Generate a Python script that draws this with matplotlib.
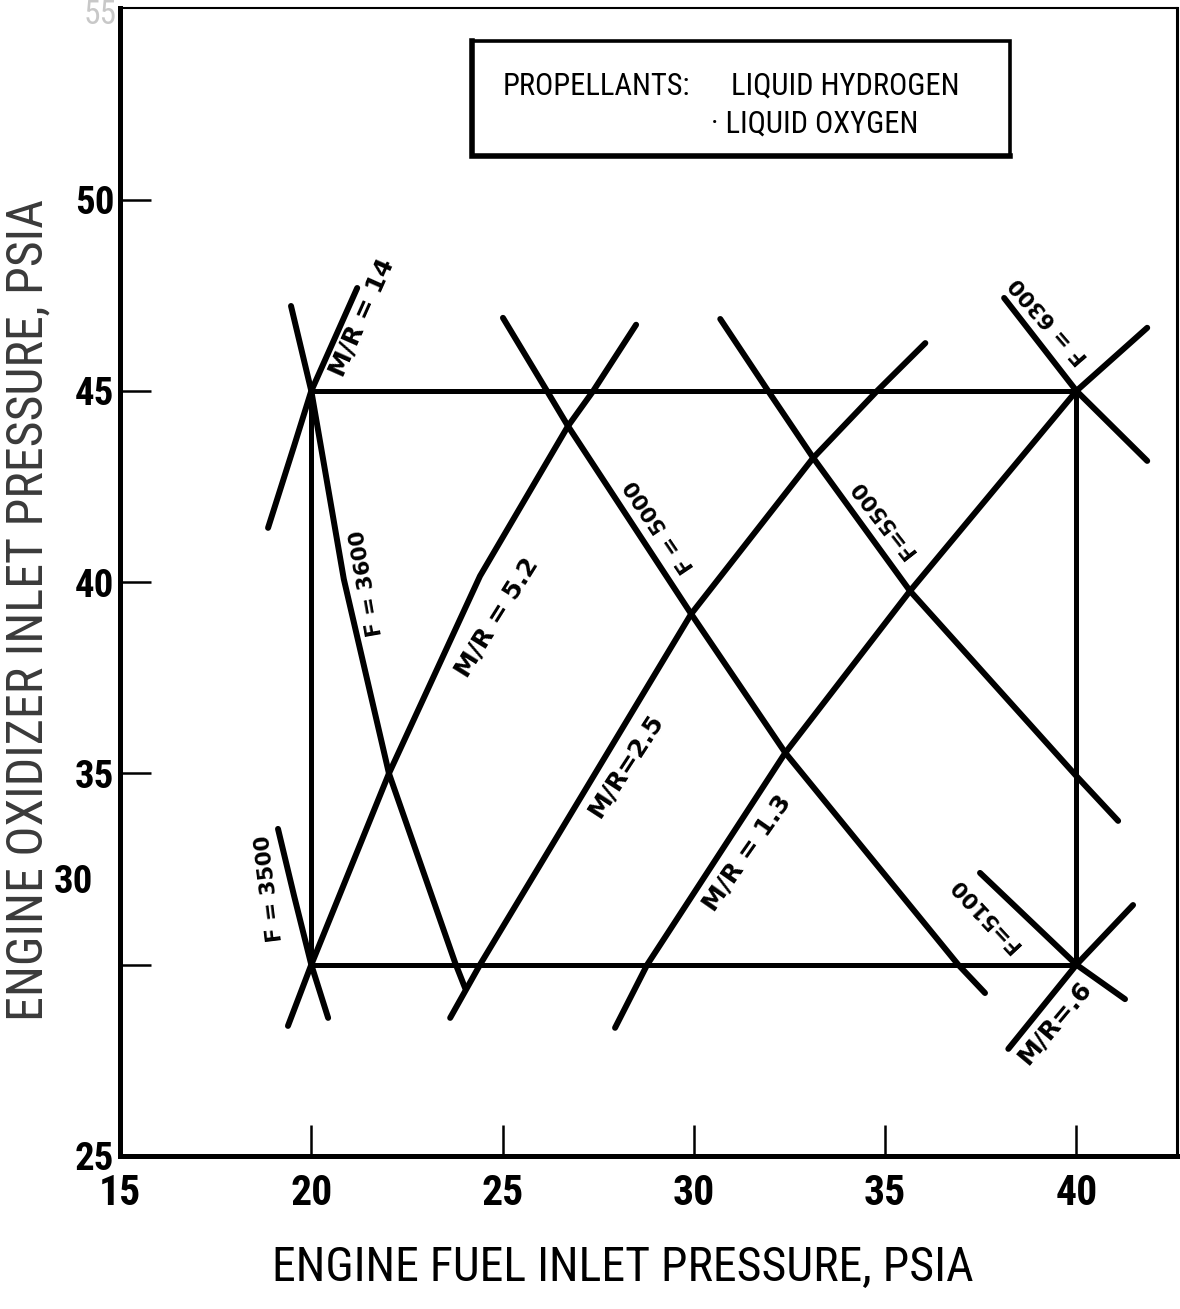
import matplotlib

matplotlib.use("Agg")
import matplotlib.pyplot as plt
from matplotlib import font_manager
from matplotlib.patches import Rectangle

# mixture-ratio lines (rising), fuel / oxidizer inlet pressure in psia
MR14_X = [18.87, 19.55, 20.0, 21.2]
MR14_Y = [41.42, 43.56, 45.0, 47.69]
MR52_X = [19.39, 20.0, 22.03, 24.41, 26.71, 27.37, 28.49]
MR52_Y = [28.40, 30.0, 35.0, 40.16, 44.08, 45.0, 46.73]
MR25_X = [23.63, 24.41, 29.93, 33.12, 34.79, 36.05]
MR25_Y = [28.61, 30.0, 39.17, 43.25, 45.0, 46.25]
MR13_X = [27.94, 28.78, 32.39, 35.65, 40.0, 41.85]
MR13_Y = [28.35, 30.0, 35.54, 39.77, 45.0, 46.65]
MR06_X = [38.22, 40.0, 41.48]
MR06_Y = [27.80, 30.0, 31.56]

# constant-thrust lines (falling)
F3500_X = [19.13, 19.55, 20.0, 20.44]
F3500_Y = [33.55, 31.80, 30.0, 28.61]
F3600_X = [19.47, 20.0, 20.85, 22.03, 23.76, 24.02]
F3600_Y = [47.22, 45.0, 40.08, 35.0, 30.05, 29.39]
F5000_X = [25.01, 26.16, 26.71, 29.93, 32.39, 36.91, 37.61]
F5000_Y = [46.91, 45.0, 44.08, 39.17, 35.54, 30.0, 29.26]
F5500_X = [30.69, 31.94, 33.12, 35.65, 40.0, 41.09]
F5500_Y = [46.88, 45.0, 43.25, 39.77, 34.93, 33.76]
F5100_X = [37.48, 40.0, 41.27]
F5100_Y = [32.40, 30.0, 29.10]
F6300_X = [38.11, 40.0, 41.85]
F6300_Y = [47.43, 45.0, 43.17]

# operating envelope
ENV_X = [20, 40]
ENV_Y = [30, 45]

X_TICKS = [15, 20, 25, 30, 35, 40]
Y_TICKS = [25, 30, 35, 40, 45, 50]

CURVE_NAMES = ["M/R = 14", "F = 3600", "F = 3500", "M/R = 5.2", "F = 5000",
               "M/R=2.5", "M/R = 1.3", "F=5500", "F = 6300", "F=5100", "M/R=.6"]

# where each curve name sits: x, y, rotation (deg), size
NAME_PLACES = [
    (21.33, 46.91, 66, 18),
    (21.46, 39.98, 100, 15.5),
    (18.92, 31.98, 97, 15.5),
    (24.86, 39.07, 58, 18),
    (29.12, 41.47, 124, 15.5),
    (28.23, 35.20, 57, 18),
    (31.39, 32.92, 55, 18),
    (34.95, 41.68, 128, 15.5),
    (39.29, 46.83, 131, 15.5),
    (37.61, 31.33, 133, 15.5),
    (39.44, 28.50, 50, 18),
]

names = {f.name for f in font_manager.fontManager.ttflist}
NARROW = next((n for n in ("Liberation Sans Narrow", "Roboto Condensed", "DejaVu Sans")
               if n in names), "DejaVu Sans")

fig = plt.figure(figsize=(11.8, 13.09), dpi=100)
ax = fig.add_axes([0.1017, 0.1169, 0.8958, 0.877])
ax.set_xlim(15, 42.63)
ax.set_ylim(25, 55.01)

curves = [(MR14_X, MR14_Y), (MR52_X, MR52_Y), (MR25_X, MR25_Y), (MR13_X, MR13_Y),
          (MR06_X, MR06_Y), (F3500_X, F3500_Y), (F3600_X, F3600_Y),
          (F5000_X, F5000_Y), (F5500_X, F5500_Y), (F5100_X, F5100_Y),
          (F6300_X, F6300_Y)]
for xs, ys in curves:
    ax.plot(xs, ys, color="black", lw=4.3, solid_capstyle="round",
            solid_joinstyle="round", zorder=3)

ax.vlines(ENV_X, ENV_Y[0], ENV_Y[1], color="black", lw=3.6, zorder=2)
ax.hlines(ENV_Y, ENV_X[0], ENV_X[1], color="black", lw=3.6, zorder=2)

for name, (x, y, rot, size) in zip(CURVE_NAMES, NAME_PLACES):
    ax.text(x, y, name, rotation=rot, rotation_mode="anchor", ha="center",
            va="center", fontsize=size, family="DejaVu Sans",
            fontweight="bold", zorder=4)

# propellant note, heavier on the left and bottom edges
ax.add_patch(Rectangle((24.2, 51.14), 14.07, 3.01, fill=False, lw=2.6,
                       edgecolor="black", zorder=3))
ax.plot([24.2, 24.2, 38.27], [54.15, 51.14, 51.14], color="black", lw=4.0,
        solid_joinstyle="miter", zorder=3)
ax.text(24.99, 52.97, "PROPELLANTS:", fontsize=22, family=NARROW,
        va="center", ha="left")
ax.text(30.97, 52.97, "LIQUID HYDROGEN", fontsize=22, family=NARROW,
        va="center", ha="left")
ax.text(30.45, 51.98, "· LIQUID OXYGEN", fontsize=22, family=NARROW,
        va="center", ha="left")

# frame and ticks
for side, lw in (("left", 3.6), ("bottom", 3.6), ("right", 2.2), ("top", 1.5)):
    ax.spines[side].set_linewidth(lw)
ax.tick_params(direction="in", length=22, width=1.8, top=False, right=False)
ax.tick_params(axis="x", pad=12)
ax.tick_params(axis="y", pad=4)
ax.set_xticks(X_TICKS)
ax.set_xticklabels([str(v) for v in X_TICKS], fontsize=30, family=NARROW,
                   fontweight="bold")
ax.set_yticks(Y_TICKS)
ax.set_yticklabels(["" if v == 30 else str(v) for v in Y_TICKS], fontsize=28,
                   family=NARROW, fontweight="bold")
ax.text(-0.044, 32.14, "30", transform=ax.get_yaxis_transform(), fontsize=28,
        family=NARROW, fontweight="bold", ha="center", va="center")

fig.text(100 / 1180, 1 - 15 / 1309, "55", fontsize=24, color="#c8c8c8",
         family=NARROW, ha="center", va="center")
fig.text(623 / 1180, 1 - 1268 / 1309, "ENGINE FUEL INLET PRESSURE, PSIA",
         fontsize=34.5, family=NARROW, ha="center", va="center")
fig.text(28 / 1180, 1 - 610 / 1309, "ENGINE OXIDIZER INLET PRESSURE, PSIA",
         fontsize=36, family=NARROW, color="#3a3a3a", rotation=90,
         ha="center", va="center")

fig.savefig("out.png", dpi=100)
